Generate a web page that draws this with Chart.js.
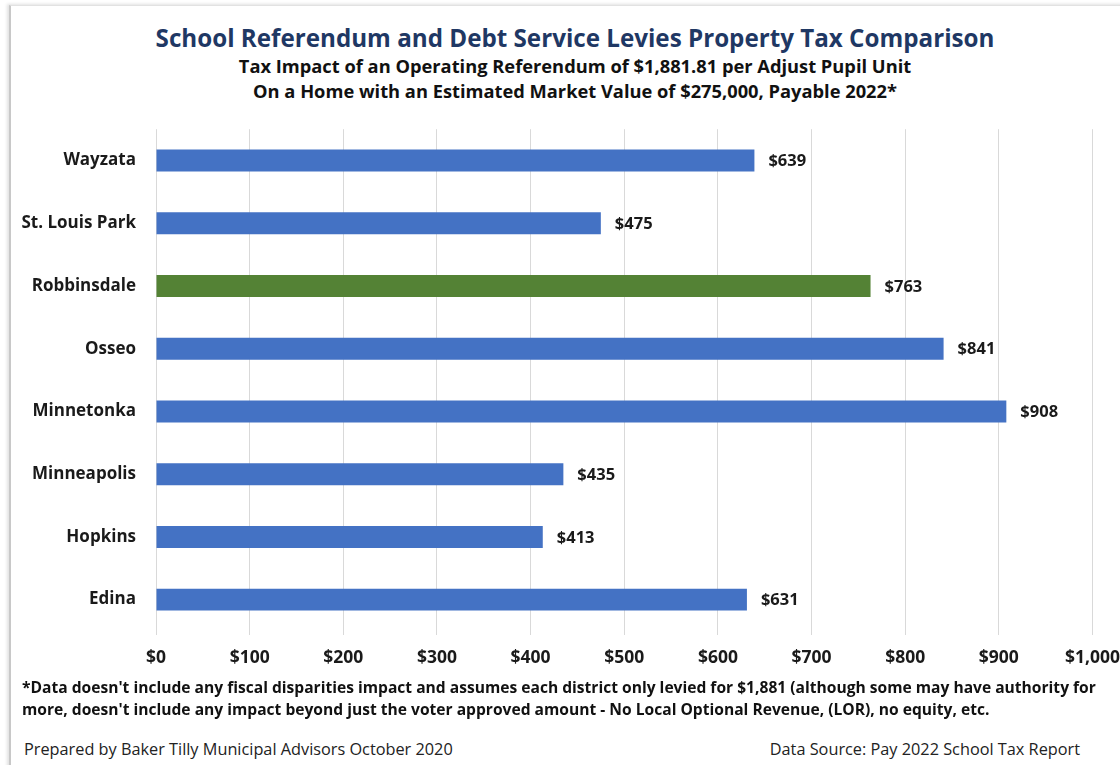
<!DOCTYPE html>
<html>
<head>
<meta charset="utf-8">
<script src="https://cdn.jsdelivr.net/npm/chart.js@4.4.0/dist/chart.umd.min.js"></script>
<style>
  html, body { margin: 0; padding: 0; background: #fff; }
  body { width: 1120px; height: 765px; position: relative; overflow: hidden; font-family: "Open Sans", sans-serif; }
  #frame { position: absolute; left: 9px; top: 5px; width: 1120px; height: 770px;
           border-left: 2px solid #c8c8c8; border-top: 1px solid #e2e2e2;
           box-shadow: -2px -1px 3px rgba(0,0,0,0.12); }
  .t { position: absolute; white-space: nowrap; }
  #title { left: 30px; width: 1090px; top: 21px; text-align: center; font-size: 24.2px; font-weight: 700; color: #1f3864; }
  #sub1 { left: 30px; width: 1090px; top: 53px; text-align: center; font-size: 18.3px; font-weight: 700; color: #111; }
  #sub2 { left: 30px; width: 1090px; top: 78px; text-align: center; font-size: 18.3px; font-weight: 700; color: #111; }
  #note1 { left: 22px; top: 676px; font-size: 15.6px; font-weight: 700; color: #111; }
  #note2 { left: 22px; top: 698px; font-size: 15.6px; font-weight: 700; color: #111; }
  #prep { left: 24px; top: 738px; font-size: 16.3px; color: #222; }
  #src { right: 40px; top: 738px; font-size: 16.3px; color: #222; }
  #wrap { position: absolute; left: 9px; top: 107px; width: 1124px; height: 574px; }
</style>
</head>
<body>
<div id="frame"></div>
<div class="t" id="title">School Referendum and Debt Service Levies Property Tax Comparison</div>
<div class="t" id="sub1">Tax Impact of an Operating Referendum of $1,881.81 per Adjust Pupil Unit</div>
<div class="t" id="sub2">On a Home with an Estimated Market Value of $275,000, Payable 2022*</div>
<div id="wrap"><canvas id="chart"></canvas></div>
<div class="t" id="note1">*Data doesn't include any fiscal disparities impact and assumes each district only levied for $1,881 (although some may have authority for</div>
<div class="t" id="note2">more, doesn't include any impact beyond just the voter approved amount - No Local Optional Revenue, (LOR), no equity, etc.</div>
<div class="t" id="prep">Prepared by Baker Tilly Municipal Advisors October 2020</div>
<div class="t" id="src">Data Source: Pay 2022 School Tax Report</div>
<script>
const districts = ["Wayzata", "St. Louis Park", "Robbinsdale", "Osseo", "Minnetonka", "Minneapolis", "Hopkins", "Edina"];
const taxImpact = [639, 475, 763, 841, 908, 435, 413, 631];
const highlighted = "Robbinsdale";
const xTicks = [0, 100, 200, 300, 400, 500, 600, 700, 800, 900, 1000];

const ctx = document.querySelector("#chart").getContext("2d");

const barColors = districts.map((d) => (d === highlighted ? "#548235" : "#4472c4"));

const money = (v) => "$" + v.toLocaleString("en-US");

// "$639" style labels just past the end of each bar
const valueLabels = {
  id: "valueLabels",
  afterDatasetsDraw(chart) {
    const c = chart.ctx;
    const meta = chart.getDatasetMeta(0);
    c.save();
    c.font = "bold 16.5px 'Open Sans'";
    c.fillStyle = "#1a1a1a";
    c.textAlign = "left";
    c.textBaseline = "middle";
    meta.data.forEach((bar, i) => {
      c.fillText(money(taxImpact[i]), bar.x + 14, bar.y + 1);
    });
    c.restore();
  },
};

new Chart(ctx, {
  type: "bar",
  data: {
    labels: districts,
    datasets: [
      {
        data: taxImpact,
        backgroundColor: barColors,
        barPercentage: 0.7,
        categoryPercentage: 0.5,
      },
    ],
  },
  options: {
    indexAxis: "y",
    animation: false,
    maintainAspectRatio: false,
    layout: { padding: { top: 9, right: 27, left: 0, bottom: 0 } },
    scales: {
      x: {
        min: 0,
        max: 1000,
        afterBuildTicks: (s) => { s.ticks = xTicks.map((v) => ({ value: v })); },
        afterFit: (s) => { s.height = 50; },
        grid: { color: "#d9d9d9", lineWidth: 1, drawTicks: true, tickLength: 4, tickColor: "#d9d9d9" },
        border: { display: false },
        ticks: {
          padding: 13,
          color: "#1a1a1a",
          font: { family: "Open Sans", size: 17.5, weight: "bold" },
          callback: (v) => money(v),
          maxRotation: 0,
        },
      },
      y: {
        afterFit: (s) => { s.width = 147; },
        grid: { display: false },
        border: { display: false },
        ticks: {
          padding: 12,
          color: "#1a1a1a",
          font: { family: "Open Sans", size: 17, weight: "bold" },
        },
      },
    },
    plugins: {
      legend: { display: false },
      tooltip: { enabled: false },
    },
  },
  plugins: [valueLabels],
});
</script>
</body>
</html>
